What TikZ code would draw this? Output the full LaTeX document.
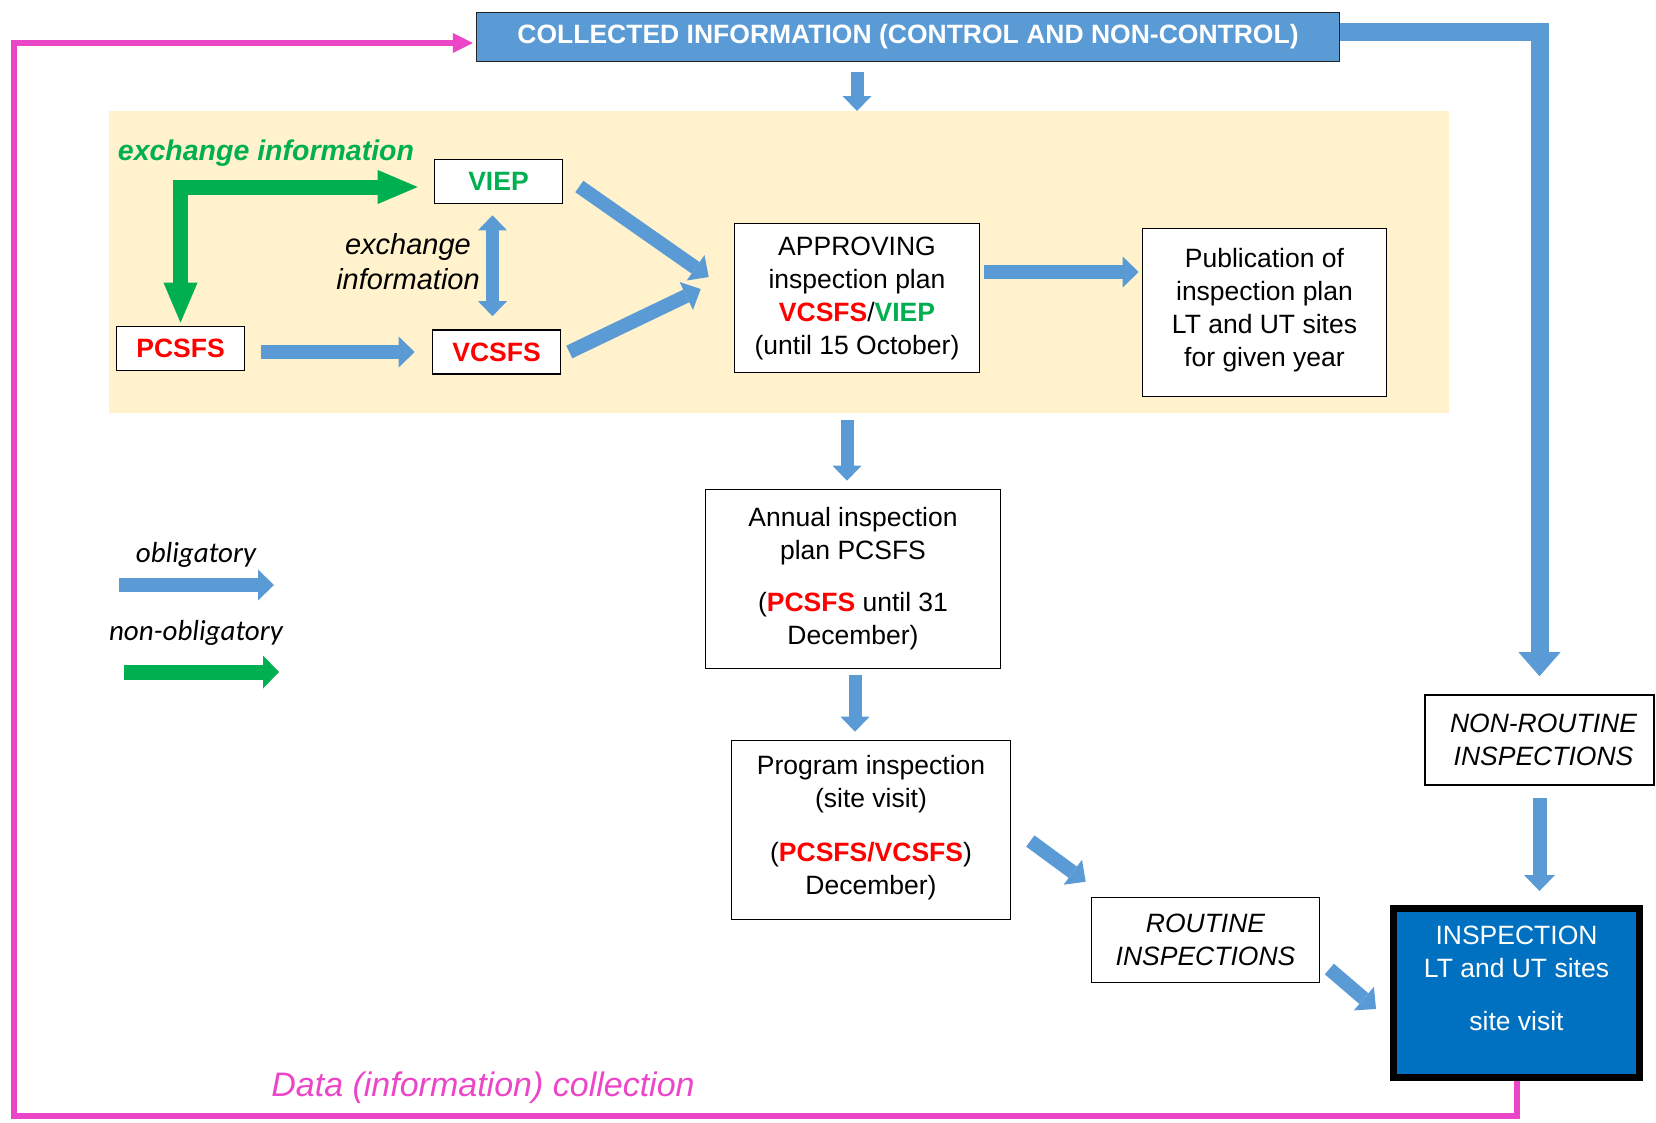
\documentclass[tikz,border=0pt]{standalone}
\usepackage{fontspec}
\setmainfont{Liberation Sans}
\newfontfamily\legendfont{Carlito}
\usetikzlibrary{arrows.meta}
\definecolor{arrowblue}{HTML}{5B9BD5}
\definecolor{panelbeige}{HTML}{FFF2CC}
\definecolor{nogreen}{HTML}{00B050}
\definecolor{loopink}{RGB}{236,70,200}
\definecolor{sitevisit}{HTML}{0070C0}
\newcommand{\diagfont}{\fontsize{26.5}{33}\selectfont}

\begin{document}
\begin{tikzpicture}[x=1pt,y=-1pt,
    panel/.style={fill=panelbeige,inner sep=0pt,outer sep=0pt,minimum width=1340pt,minimum height=302pt},
    top_box/.style={fill=arrowblue,draw=black!85,line width=1.5pt,text=white,font=\diagfont\bfseries,minimum width=863pt,minimum height=49pt,inner sep=0pt},
    plain_box/.style={draw=black,line width=1.6pt,fill=white,align=center,font=\diagfont,inner sep=0pt},
    tag_box/.style={plain_box,font=\diagfont\bfseries,minimum width=128pt,minimum height=44pt},
    site_box/.style={fill=sitevisit,draw=black,line width=7pt,text=white,align=center,font=\diagfont,inner sep=0pt},
    legend_text/.style={font=\legendfont\fontsize{29}{34}\selectfont\itshape},
    oblig_arrow/.style={arrowblue,line width=14pt,-{Triangle[length=16pt,width=31pt,line width=0pt]}},
    thin_arrow/.style={arrowblue,line width=13pt,-{Triangle[length=15pt,width=29pt,line width=0pt]}},
    twoway_arrow/.style={arrowblue,line width=13pt,{Triangle[length=15pt,width=29pt,line width=0pt]}-{Triangle[length=15pt,width=29pt,line width=0pt]}},
    big_arrow/.style={arrowblue,line width=18pt,-{Triangle[length=24pt,width=42pt,line width=0pt]}},
    nonoblig_arrow/.style={nogreen,line width=15pt,-{Triangle[length=16pt,width=33pt,line width=0pt]}},
    exchange_arrow/.style={nogreen,line width=15pt,{Triangle[length=40pt,width=34pt,line width=0pt]}-{Triangle[length=40pt,width=34pt,line width=0pt]}},
    loop_line/.style={loopink,line width=6pt,-{Triangle[length=20pt,width=20pt,line width=0pt]}}]
  \useasboundingbox (0,0) rectangle (1656,1122);
  % planning stage
  \node[panel] (panel) at (779,262) {};
  \node[top_box] (collect) at (908,37) {COLLECTED INFORMATION (CONTROL AND NON-CONTROL)};
  \node[tag_box,text=nogreen] (viep) at (498.5,181.5) {VIEP};
  \node[tag_box,text=red] (pcsfs) at (180.5,348.5) {PCSFS};
  \node[tag_box,text=red] (vcsfs) at (496.5,352) {VCSFS};
  \node[plain_box,minimum width=245pt,minimum height=149pt] (approve) at (857,298)
    {APPROVING\\inspection plan\\\textcolor{red}{\bfseries VCSFS}/\textcolor{nogreen}{\bfseries VIEP}\\(until 15 October)};
  \node[plain_box,minimum width=244pt,minimum height=168pt] (publish) at (1264.5,312.5)
    {Publication of\\inspection plan\\LT and UT sites\\for given year\\[-23pt]\mbox{}};
  \node[font=\fontsize{28.5}{34}\selectfont\bfseries\itshape,text=nogreen] (xgreen) at (266,153) {exchange information};
  \node[font=\fontsize{29}{35}\selectfont\itshape,align=center] (xblack) at (408,262) {exchange\\information};
  % yearly plan and visits
  \node[plain_box,minimum width=295pt,minimum height=179pt] (annual) at (853,579)
    {Annual inspection\\plan PCSFS\\[19pt](\textcolor{red}{\bfseries PCSFS} until 31\\December)};
  \node[plain_box,minimum width=279pt,minimum height=179pt] (program) at (871,830)
    {Program inspection\\(site visit)\\[21pt](\textcolor{red}{\bfseries PCSFS/VCSFS})\\December)\\[-22pt]\mbox{}};
  \node[plain_box,font=\diagfont\itshape,minimum width=228pt,minimum height=85pt] (routine) at (1205.5,940) {ROUTINE\\INSPECTIONS};
  \node[plain_box,font=\diagfont\itshape,minimum width=229pt,minimum height=90pt] (nonroutine) at (1539.5,740) {\hspace*{8pt}NON-ROUTINE\\\hspace*{8pt}INSPECTIONS};
  \node[site_box,minimum width=246pt,minimum height=169pt] (inspect) at (1516.5,993) {INSPECTION\\LT and UT sites\\[20pt]site visit\\[-3pt]\mbox{}};
  \node[font=\fontsize{34}{40}\selectfont\itshape,text=loopink] (datacoll) at (483,1088) {Data (information) collection};
  % legend
  \node[legend_text] (oblig) at (196,555) {obligatory};
  \node[legend_text] (nonoblig) at (196,633) {non-obligatory};
  \coordinate (obl_a) at (119,585);
  \coordinate (obl_b) at (274,585);
  \coordinate (non_a) at (124,672);
  \coordinate (non_b) at (279,672);
  \coordinate (loopcorner) at (14,1116);
  % connectors
  \draw[thin_arrow,shorten <=10pt] (collect.south -| approve) -- (panel.north -| approve);
  \draw[exchange_arrow,shorten <=16pt,shorten >=3pt] ([yshift=-5.5pt]viep.west) -| (pcsfs.north);
  \draw[twoway_arrow,shorten <=11pt,shorten >=13pt] ([xshift=-6pt]viep.south) -- ([xshift=-4pt]vcsfs.north);
  \draw[oblig_arrow,shorten <=16pt,shorten >=17pt] (pcsfs.east |- vcsfs) -- (vcsfs);
  \draw[oblig_arrow] ([shift={(16pt,-5pt)}]viep.east) -- ([shift={(-25pt,21pt)}]approve.west);
  \draw[oblig_arrow] ([xshift=8pt]vcsfs.east) -- ([shift={(-33pt,9pt)}]approve.west);
  \draw[oblig_arrow,shorten <=4pt,shorten >=3pt] ([yshift=26pt]approve.east) -- ([yshift=26pt]approve.east -| publish.west);
  \draw[thin_arrow,shorten <=7pt,shorten >=8pt] ([xshift=-6pt]annual.north |- panel.south) -- ([xshift=-6pt]annual.north);
  \draw[thin_arrow,shorten <=6pt,shorten >=8pt] ([xshift=2pt]annual.south) -- ([xshift=2pt]annual.south |- program.north);
  \draw[oblig_arrow] ([shift={(19pt,-11pt)}]program.east) -- ([shift={(-5pt,15pt)}]routine.north west);
  \draw[oblig_arrow] ([shift={(9pt,-29pt)}]routine.east) -- ([shift={(-14pt,-16pt)}]inspect.west);
  \draw[oblig_arrow,shorten <=12pt,shorten >=14pt] (nonroutine.south) -- (nonroutine.south |- inspect.north);
  \draw[big_arrow,shorten >=18pt] ([yshift=5pt]collect.east) -| (nonroutine.north);
  \draw[loop_line,shorten >=3pt] (inspect.south) |- (loopcorner) |- ([yshift=-6pt]collect.west);
  \draw[oblig_arrow] (obl_a) -- (obl_b);
  \draw[nonoblig_arrow] (non_a) -- (non_b);
\end{tikzpicture}
\end{document}
